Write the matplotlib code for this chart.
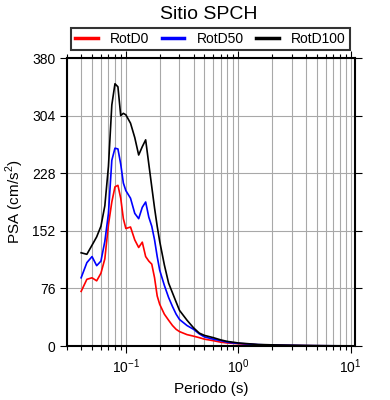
import numpy as np
import matplotlib
matplotlib.use('Agg')
import matplotlib.pyplot as plt
from matplotlib.ticker import LogLocator, FixedLocator, NullFormatter

plt.rcParams['font.family'] = ['Liberation Sans', 'DejaVu Sans']
plt.rcParams['mathtext.fontset'] = 'custom'
plt.rcParams['mathtext.rm'] = 'Liberation Sans'

# periods (s)
periodo = [0.04, 0.045, 0.05, 0.055, 0.06, 0.065, 0.07, 0.075, 0.08, 0.085,
           0.09, 0.095, 0.1, 0.11, 0.12, 0.13, 0.14, 0.15, 0.16, 0.17,
           0.18, 0.19, 0.2, 0.22, 0.24, 0.26, 0.28, 0.3, 0.35, 0.4,
           0.45, 0.5, 0.6, 0.7, 0.8, 0.9, 1.0, 1.5, 2.0, 3.0,
           4.0, 5.0, 7.0, 10.0]

rotd0 = [72, 88, 90, 86, 96, 115, 160, 190, 210, 212,
         195, 168, 155, 157, 140, 130, 137, 118, 112, 108,
         90, 66, 55, 42, 34, 27, 22, 19, 15, 13,
         11, 9, 7, 5, 4, 3.5, 3, 1.5, 1.0, 0.6,
         0.4, 0.3, 0.2, 0.1]

rotd50 = [90, 110, 118, 106, 112, 138, 175, 245, 261, 260,
          240, 215, 205, 195, 175, 168, 183, 190, 170, 158,
          140, 118, 100, 80, 64, 52, 42, 35, 27, 22,
          16, 12, 9, 7, 5, 4, 3.5, 1.8, 1.2, 0.8,
          0.5, 0.4, 0.25, 0.15]

rotd100 = [123, 121, 133, 144, 158, 185, 237, 318, 346, 342,
           304, 307, 305, 294, 275, 252, 263, 272, 240, 210,
           182, 158, 138, 107, 83, 70, 58, 47, 34, 24,
           17, 14, 11, 8, 6, 5, 4, 2, 1.5, 1.0,
           0.7, 0.5, 0.3, 0.2]

yticks = [0, 76, 152, 228, 304, 380]

fig = plt.figure(figsize=(3.9, 4.0), dpi=100)
ax = fig.add_axes([0.172, 0.135, 0.738, 0.72])

ax.plot(periodo, rotd0, color='red', lw=1.2, label='RotD0')
ax.plot(periodo, rotd50, color='blue', lw=1.2, label='RotD50')
ax.plot(periodo, rotd100, color='black', lw=1.2, label='RotD100')

ax.set_xscale('log')
ax.set_xlim(0.03, 10.9)
ax.set_ylim(0, 380)
ax.set_yticks(yticks)
ax.xaxis.set_major_locator(FixedLocator([0.1, 1, 10]))
ax.xaxis.set_minor_locator(LogLocator(base=10, subs=np.arange(2, 10)))
ax.xaxis.set_minor_formatter(NullFormatter())

ax.grid(True, which='both', axis='x', color='#a8a8a8', lw=0.8)
ax.grid(True, which='major', axis='y', color='#a8a8a8', lw=0.8)
ax.set_axisbelow(True)

for s in ax.spines.values():
    s.set_linewidth(1.5)
ax.tick_params(which='major', direction='out', length=5, width=0.8,
               labelsize=10, top=True, right=True)
ax.tick_params(which='minor', direction='out', length=3, width=0.8,
               top=True)

ax.set_xlabel('Periodo (s)', fontsize=11)
ax.set_ylabel('PSA (cm/s$^2$)', fontsize=11)
fig.text(0.535, 0.963, 'Sitio SPCH', ha='center', va='center', fontsize=14)

leg = fig.legend(loc='center', bbox_to_anchor=(0.54, 0.903), ncol=3,
                 fontsize=10, frameon=True, fancybox=False,
                 edgecolor='black', handlelength=1.6, columnspacing=0.9,
                 borderpad=0.3, handletextpad=0.9)
leg.get_frame().set_linewidth(1.5)
for l in leg.get_lines():
    l.set_linewidth(2.5)

fig.savefig('out.png', dpi=100)
